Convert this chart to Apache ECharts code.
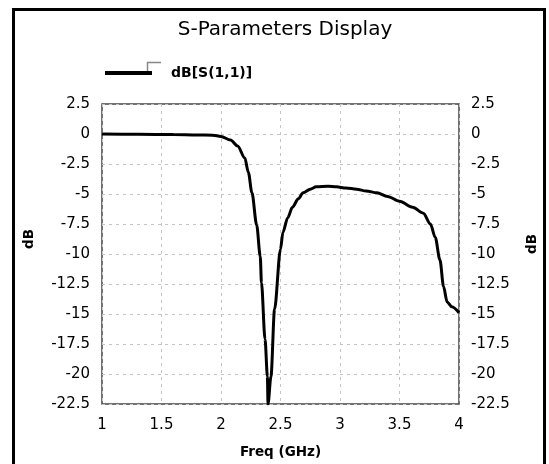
<!DOCTYPE html>
<html>
<head>
<meta charset="utf-8">
<script src="https://cdn.jsdelivr.net/npm/echarts@6/dist/echarts.min.js"></script>
<style>
html, body { margin: 0; padding: 0; background: #fff; }
#chart { width: 549px; height: 464px; }
</style>
</head>
<body>
<div id="chart"></div>
<script>
// S11 sweep
var freqGHz = [1.0, 1.3, 1.6, 1.8, 1.93, 2.0, 2.08, 2.14, 2.2, 2.23, 2.26, 2.3, 2.33, 2.34, 2.37, 2.39, 2.395,
    2.42, 2.45, 2.5, 2.52, 2.56, 2.6, 2.65, 2.69, 2.75, 2.8, 2.9, 2.97, 3.05, 3.14, 3.22, 3.31,
    3.4, 3.5, 3.61, 3.7, 3.76, 3.8, 3.84, 3.87, 3.9, 3.94, 4.0];
var s11dB = [0, -0.02, -0.05, -0.08, -0.1, -0.2, -0.5, -1.0, -2.0, -3.2, -4.9, -7.6, -10.2, -12.4, -17.1, -20.2, -22.5,
    -20.2, -14.6, -9.6, -8.2, -7.0, -6.1, -5.4, -4.9, -4.6, -4.4, -4.35, -4.4, -4.5, -4.6, -4.75, -4.9,
    -5.2, -5.6, -6.1, -6.6, -7.5, -8.6, -10.5, -12.7, -14.0, -14.4, -14.9];
var seriesName = 'dB[S(1,1)]';

var chart = echarts.init(document.getElementById('chart'));
var tickFont = {color: '#000', fontFamily: 'DejaVu Sans', fontSize: 15};
var nameFont = {color: '#000', fontFamily: 'DejaVu Sans', fontSize: 13.5, fontWeight: 'bold'};
var gridLine = {color: '#c4c4c4', type: [3, 4], width: 1};

chart.setOption({
    animation: false,
    backgroundColor: '#fff',
    title: {
        text: 'S-Parameters Display',
        left: 280,
        textAlign: 'center',
        top: 15,
        textStyle: {color: '#000', fontFamily: 'DejaVu Sans', fontSize: 20, fontWeight: 'normal'}
    },
    legend: {
        left: 100,
        top: 61,
        icon: 'rect',
        itemWidth: 47,
        itemHeight: 4,
        data: [seriesName],
        textStyle: {color: '#000', fontFamily: 'DejaVu Sans', fontSize: 14, fontWeight: 'bold', padding: [0, 0, 0, 14]}
    },
    graphic: [
        {
            type: 'rect',
            shape: {x: 13.5, y: 9.5, width: 531, height: 470},
            style: {fill: 'none', stroke: '#000', lineWidth: 3},
            silent: true
        },
        {
            type: 'polyline',
            shape: {points: [[147.5, 73], [147.5, 62.5], [161, 62.5]]},
            style: {fill: 'none', stroke: '#888', lineWidth: 1.5},
            silent: true
        }
    ],
    grid: {
        left: 102, right: 90, top: 104, bottom: 59,
        show: true, borderColor: '#444', borderWidth: 1.5, backgroundColor: '#fff'
    },
    xAxis: {
        type: 'value',
        min: 1, max: 4, interval: 0.5,
        name: 'Freq (GHz)',
        nameLocation: 'middle',
        nameGap: 41,
        nameTextStyle: nameFont,
        axisLine: {show: false},
        axisTick: {show: false},
        axisLabel: Object.assign({margin: 14}, tickFont),
        splitLine: {show: true, lineStyle: gridLine}
    },
    yAxis: [
        {
            type: 'value',
            min: -22.5, max: 2.5, interval: 2.5,
            name: 'dB',
            nameLocation: 'middle',
            nameRotate: 90,
            nameGap: 66,
            nameTextStyle: Object.assign({padding: [0, 0, 0, 30]}, nameFont),
            axisLine: {show: false},
            axisTick: {show: false},
            axisLabel: Object.assign({margin: 12}, tickFont),
            splitLine: {show: true, lineStyle: gridLine}
        },
        {
            type: 'value',
            position: 'right',
            min: -22.5, max: 2.5, interval: 2.5,
            name: 'dB',
            nameLocation: 'middle',
            nameRotate: 90,
            nameGap: 66,
            nameTextStyle: Object.assign({padding: [0, 0, 0, 20]}, nameFont),
            axisLine: {show: false},
            axisTick: {show: false},
            axisLabel: Object.assign({margin: 12}, tickFont),
            splitLine: {show: false}
        }
    ],
    series: [
        {
            name: seriesName,
            type: 'line',
            data: freqGHz.map(function (f, i) { return [f, s11dB[i]]; }),
            showSymbol: false,
            smooth: 0.3,
            smoothMonotone: 'x',
            clip: true,
            color: '#000',
            lineStyle: {color: '#000', width: 3}
        }
    ]
});
</script>
</body>
</html>
